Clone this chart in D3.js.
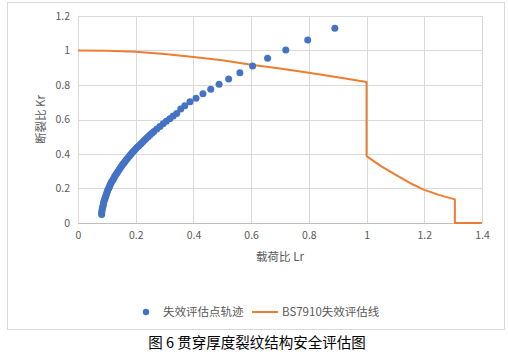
<!DOCTYPE html>
<html><head><meta charset="utf-8">
<script src="https://cdn.jsdelivr.net/npm/d3@7"></script>
<style>
html,body{margin:0;padding:0;background:#fff;}
svg{display:block;}
</style></head>
<body>
<svg id="c" width="508" height="354"></svg>
<script>
// Blue scatter: failure assessment points (Lr, Kr)
const ptLr = [0.082,0.082,0.083,0.084,0.085,0.087,0.088,0.089,0.091,0.093,0.095,0.097,0.099,0.101,0.103,0.106,0.109,0.111,0.114,0.117,0.121,0.124,0.127,0.131,0.135,0.139,0.143,0.147,0.151,0.155,0.160,0.164,0.169,0.174,0.179,0.184,0.189,0.195,0.200,0.206,0.212,0.218,0.224,0.230,0.236,0.243,0.249,0.256,0.263,0.273,0.284,0.295,0.306,0.318,0.330,0.342,
  0.356,0.370,0.388,0.409,0.433,0.460,0.489,0.522,0.561,0.605,0.657,0.720,0.796,0.890];
const ptKr = [0.05,0.06,0.07,0.08,0.09,0.10,0.11,0.12,0.13,0.14,0.15,0.16,0.17,0.18,0.19,0.20,0.21,0.22,0.23,0.24,0.25,0.26,0.27,0.28,0.29,0.30,0.31,0.32,0.33,0.34,0.35,0.36,0.37,0.38,0.39,0.40,0.41,0.42,0.43,0.44,0.45,0.46,0.47,0.48,0.49,0.50,0.51,0.52,0.53,0.545,0.56,0.575,0.59,0.605,0.62,0.635,
  0.661,0.680,0.703,0.723,0.750,0.775,0.804,0.835,0.871,0.910,0.955,1.003,1.061,1.129];
// Orange: BS7910 failure assessment line
const fadLr = [0,0.1,0.2,0.3,0.4,0.5,0.6,0.7,0.8,0.9,1.0,1.0,1.05,1.1,1.15,1.2,1.25,1.306,1.306,1.4];
const fadKr = [1.0,0.998,0.993,0.98,0.963,0.944,0.918,0.895,0.871,0.845,0.817,0.388,0.33,0.28,0.232,0.192,0.163,0.137,0,0];
const xTicks = [0,0.2,0.4,0.6,0.8,1,1.2,1.4];
const yTicks = [0,0.2,0.4,0.6,0.8,1,1.2];
const xTitle = "载荷比 Lr", yTitle = "断裂比 Kr";
const legendNames = ["失效评估点轨迹","BS7910失效评估线"];
const caption = "图 6 贯穿厚度裂纹结构安全评估图";

const svg = d3.select("#c");
const font = "'Noto Sans CJK SC','Noto Sans',sans-serif";
const grey = "#595959";
// outer chart frame
svg.append("rect").attr("x",7.5).attr("y",2.5).attr("width",497).attr("height",327)
  .attr("fill","#fff").attr("stroke","#d9d9d9");

const x = d3.scaleLinear().domain([0,1.4]).range([78,482]);
const y = d3.scaleLinear().domain([0,1.2]).range([223,16]);

// gridlines
const g = svg.append("g");
g.selectAll(".vg").data(xTicks).join("line")
  .attr("x1",d=>Math.round(x(d))+0.5).attr("x2",d=>Math.round(x(d))+0.5)
  .attr("y1",y(1.2)).attr("y2",y(0)).attr("stroke","#d9d9d9");
g.selectAll(".hg").data(yTicks).join("line")
  .attr("y1",d=>Math.round(y(d))+0.5).attr("y2",d=>Math.round(y(d))+0.5)
  .attr("x1",x(0)).attr("x2",x(1.4)).attr("stroke",d=>d===0?"#bfbfbf":"#d9d9d9");

// axes (labels only)
const xAxis = d3.axisBottom(x).tickValues(xTicks).tickSize(0).tickPadding(9).tickFormat(d3.format("~g"));
const gx = svg.append("g").attr("transform",`translate(0,${y(0)})`).call(xAxis);
const yAxis = d3.axisLeft(y).tickValues(yTicks).tickSize(0).tickPadding(8).tickFormat(d3.format("~g"));
const gy = svg.append("g").attr("transform",`translate(${x(0)},0)`).call(yAxis);
[gx,gy].forEach(a=>{
  a.select(".domain").remove();
  a.selectAll("text").attr("fill",grey).style("font-family",font).style("font-size","10.5px");
});

// axis titles
svg.append("text").attr("x",(x(0)+x(1.4))/2).attr("y",261).attr("text-anchor","middle")
  .attr("fill",grey).style("font-family",font).style("font-size","11.5px").text(xTitle);
svg.append("text").attr("transform",`translate(45,${(y(0)+y(1.2))/2}) rotate(-90)`).attr("text-anchor","middle")
  .attr("fill",grey).style("font-family",font).style("font-size","11.5px").text(yTitle);

// FAD line
const fad = fadLr.map((d,i)=>[d,fadKr[i]]);
svg.append("path").datum(fad)
  .attr("d",d3.line().x(d=>x(d[0])).y(d=>y(d[1])))
  .attr("fill","none").attr("stroke","#ED7D31").attr("stroke-width",2).attr("stroke-linejoin","round");

// points
const pts = ptLr.map((d,i)=>[d,ptKr[i]]);
svg.append("g").selectAll("circle").data(pts).join("circle")
  .attr("cx",d=>x(d[0])).attr("cy",d=>y(d[1])).attr("r",3.5).attr("fill","#4472C4");

// legend
const lg = svg.append("g").style("font-family",font).style("font-size","11.5px");
lg.append("circle").attr("cx",146).attr("cy",312).attr("r",3.2).attr("fill","#4472C4");
lg.append("text").attr("x",163).attr("y",316).attr("fill",grey).text(legendNames[0]);
lg.append("line").attr("x1",252).attr("x2",278).attr("y1",312).attr("y2",312).attr("stroke","#ED7D31").attr("stroke-width",2);
lg.append("text").attr("x",282).attr("y",316).attr("fill",grey).text(legendNames[1]);

// caption
svg.append("text").attr("x",257).attr("y",348).attr("text-anchor","middle").attr("fill","#000")
  .style("font-family",font).style("font-size","14.5px").text(caption);
</script>
</body></html>
